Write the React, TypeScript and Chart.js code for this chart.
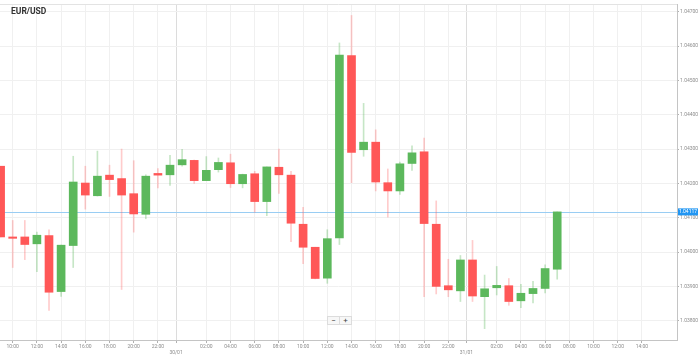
import React, { useEffect, useRef } from 'react';
import { Chart, registerables } from 'chart.js';

Chart.register(...registerables);

const title = 'EUR/USD';

// hourly candles, hour index counted from 29/01 00:00
const hours = [9, 10, 11, 12, 13, 14, 15, 16, 17, 18, 19, 20, 21, 22, 23, 24, 25, 26, 27, 28, 29, 30, 31, 32, 33, 34, 35, 36, 37, 38, 39, 40, 41, 42, 43, 44, 45, 46, 47, 48, 49, 50, 51, 52, 53, 54, 55];

const open = [1.0425, 1.04044, 1.04044, 1.04024, 1.04048, 1.03885, 1.04019, 1.04201, 1.04164, 1.04224, 1.04214, 1.0417, 1.0411, 1.04229, 1.04225, 1.04254, 1.04267, 1.04208, 1.0424, 1.0426, 1.04199, 1.04228, 1.04147, 1.04247, 1.04224, 1.04081, 1.04014, 1.03924, 1.04041, 1.04572, 1.04298, 1.0432, 1.04202, 1.04178, 1.04258, 1.04292, 1.04081, 1.03902, 1.03887, 1.03977, 1.0387, 1.03896, 1.03902, 1.03858, 1.03879, 1.03894, 1.0395];

const high = [1.0425, 1.04092, 1.04092, 1.04058, 1.04065, 1.0402, 1.04279, 1.0425, 1.04294, 1.04253, 1.043, 1.04266, 1.04225, 1.04243, 1.04282, 1.04299, 1.04268, 1.04278, 1.04274, 1.04285, 1.04227, 1.04235, 1.04248, 1.043, 1.04235, 1.0413, 1.04014, 1.04065, 1.04609, 1.04689, 1.04433, 1.04356, 1.04242, 1.04262, 1.04309, 1.04332, 1.04149, 1.03979, 1.0399, 1.04034, 1.03933, 1.03958, 1.03923, 1.03906, 1.03915, 1.03963, 1.04117];

const low = [1.04044, 1.03955, 1.03978, 1.03943, 1.0383, 1.03871, 1.03955, 1.04125, 1.04163, 1.04162, 1.03891, 1.04058, 1.04097, 1.04187, 1.04194, 1.0425, 1.042, 1.04208, 1.04233, 1.04188, 1.04187, 1.04116, 1.04106, 1.04171, 1.0403, 1.03966, 1.03922, 1.03909, 1.04022, 1.04202, 1.04279, 1.04178, 1.04102, 1.04168, 1.04238, 1.0387, 1.03878, 1.0387, 1.03856, 1.03856, 1.03777, 1.03875, 1.03845, 1.03838, 1.03852, 1.03881, 1.03921];

const close = [1.04044, 1.0404, 1.04022, 1.04049, 1.03883, 1.0402, 1.04204, 1.04166, 1.04221, 1.04211, 1.04166, 1.04111, 1.04221, 1.04224, 1.04253, 1.04269, 1.04208, 1.04238, 1.04261, 1.04199, 1.04226, 1.04147, 1.04248, 1.04225, 1.04084, 1.04014, 1.03923, 1.04039, 1.04574, 1.0429, 1.0432, 1.04204, 1.04178, 1.04257, 1.04289, 1.04083, 1.039, 1.0389, 1.03977, 1.03872, 1.03893, 1.03903, 1.03856, 1.0388, 1.03894, 1.03952, 1.04117];

const timeTicks = [10, 12, 14, 16, 18, 20, 22, 26, 28, 30, 32, 34, 36, 38, 40, 42, 44, 46, 50, 52, 54, 56, 58, 60, 62];
const dateTicks = [23.5, 47.5];
const dateLabels = ['30/01', '31/01'];
const priceTicks = [1.038, 1.039, 1.04, 1.041, 1.042, 1.043, 1.044, 1.045, 1.046, 1.047];
const lastPrice = 1.04117;

const UP = '#5cb85c';
const DOWN = '#ff5757';
const UP_WICK = 'rgba(92,184,92,0.35)';
const DOWN_WICK = 'rgba(255,87,87,0.3)';

const pad2 = (n: number) => (n < 10 ? '0' : '') + n;

export default function App() {
  const ref = useRef<HTMLCanvasElement>(null);

  useEffect(() => {
    document.body.style.margin = '0';
    const canvas = ref.current;
    if (!canvas) return;
    Chart.defaults.font.family = 'Roboto';

    const isUp = open.map((o, i) => close[i] >= o);
    const allXTicks = [...timeTicks, ...dateTicks].sort((a, b) => a - b);

    const overlay = {
      id: 'overlay',
      beforeDatasetsDraw(chart: any) {
        const { ctx, chartArea: a, scales } = chart;
        const py = Math.round(scales.y.getPixelForValue(lastPrice)) + 0.5;
        ctx.save();
        ctx.strokeStyle = '#e3e3e3';
        ctx.lineWidth = 1;
        ctx.beginPath();
        ctx.moveTo(a.left, a.top + 0.5);
        ctx.lineTo(a.right, a.top + 0.5);
        ctx.stroke();
        ctx.strokeStyle = '#99cdf3';
        ctx.beginPath();
        ctx.moveTo(a.left, py);
        ctx.lineTo(a.right, py);
        ctx.stroke();
        ctx.restore();
      },
      afterDraw(chart: any) {
        const { ctx, chartArea: a, scales } = chart;
        const py = scales.y.getPixelForValue(lastPrice);
        ctx.save();
        ctx.fillStyle = '#2196f3';
        ctx.fillRect(a.right + 1, py - 3.5, 20, 7);
        ctx.fillStyle = '#ffffff';
        ctx.font = '5px Roboto';
        ctx.textAlign = 'center';
        ctx.textBaseline = 'middle';
        ctx.fillText(lastPrice.toFixed(5), a.right + 11, py + 0.3);
        ctx.restore();
      },
    };

    const chart = new Chart(canvas, {
      type: 'bar',
      data: {
        datasets: [
          {
            label: 'body',
            data: hours.map((h, i) => ({ x: h, y: [open[i], close[i]] })) as any,
            backgroundColor: isUp.map((u) => (u ? UP : DOWN)),
            barThickness: 8,
            grouped: false,
            borderWidth: 0,
            order: 0,
          } as any,
          {
            label: 'wick',
            data: hours.map((h, i) => ({ x: h, y: [low[i], high[i]] })) as any,
            backgroundColor: isUp.map((u) => (u ? UP_WICK : DOWN_WICK)),
            barThickness: 1,
            grouped: false,
            borderWidth: 0,
            order: 1,
          } as any,
        ],
      },
      options: {
        responsive: false,
        animation: false,
        devicePixelRatio: 1,
        layout: { padding: 0 },
        plugins: { legend: { display: false }, tooltip: { enabled: false } },
        scales: {
          x: {
            type: 'linear',
            position: 'bottom',
            offset: false,
            min: 8.95,
            max: 64.9,
            afterBuildTicks: (s: any) => {
              s.ticks = allXTicks.map((v) => ({ value: v }));
            },
            afterFit: (s: any) => {
              s.height = 18;
            },
            ticks: {
              autoSkip: false,
              maxRotation: 0,
              minRotation: 0,
              padding: 1,
              color: '#8c8c8c',
              font: { size: 5, family: 'Roboto' },
              callback: (v: any) => {
                const di = dateTicks.indexOf(v);
                if (di >= 0) return ['', dateLabels[di]];
                return pad2(v % 24) + ':00';
              },
            },
            grid: {
              offset: false,
              color: (c: any) => (c.tick && dateTicks.includes(c.tick.value) ? '#dcdcdc' : '#f0f0f0'),
              lineWidth: 1,
              tickColor: '#b0b0b0',
              tickLength: 3,
            },
            border: { display: true, color: '#c4c4c4' },
          } as any,
          y: {
            type: 'linear',
            position: 'right',
            min: 1.037439,
            max: 1.047224,
            afterBuildTicks: (s: any) => {
              s.ticks = priceTicks.map((v) => ({ value: v }));
            },
            afterFit: (s: any) => {
              s.width = 22;
            },
            ticks: {
              padding: 1,
              color: '#8c8c8c',
              font: { size: 5, family: 'Roboto' },
              callback: (v: any) => Number(v).toFixed(5),
            },
            grid: { color: '#f0f0f0', tickColor: '#b0b0b0', tickLength: 2 },
            border: { display: true, color: '#c4c4c4' },
          } as any,
        },
      },
      plugins: [overlay],
    });
    return () => chart.destroy();
  }, []);

  const btn: React.CSSProperties = {
    width: 11,
    height: 7,
    border: '1px solid #dcdcdc',
    background: '#f7f7f7',
    color: '#444',
    fontSize: 8,
    lineHeight: '7px',
    textAlign: 'center',
    fontFamily: 'Roboto, sans-serif',
  };

  return (
    <div style={{ position: 'relative', width: 699, height: 358, background: '#fff' }}>
      <canvas ref={ref} width={699} height={358} style={{ display: 'block', width: 699, height: 358 }} />
      <div
        style={{
          position: 'absolute',
          left: 11,
          top: 6,
          fontFamily: 'Roboto, sans-serif',
          fontWeight: 'bold',
          fontSize: 8.5,
          lineHeight: '10px',
          color: '#333',
        }}
      >
        {title}
      </div>
      <div style={{ position: 'absolute', left: 327, top: 316, display: 'flex' }}>
        <div style={btn}>−</div>
        <div style={{ ...btn, borderLeft: 'none' }}>+</div>
      </div>
    </div>
  );
}
